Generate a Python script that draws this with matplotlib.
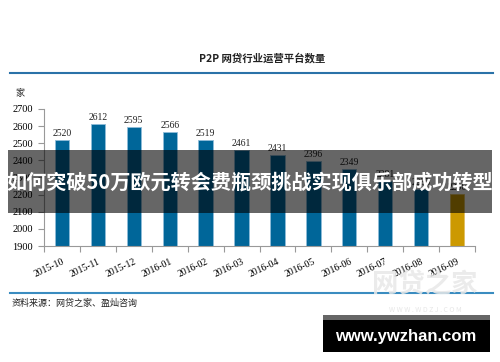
import matplotlib
matplotlib.use('Agg')
from matplotlib import pyplot as plt
from matplotlib.patches import Rectangle
import numpy as np

plt.rcParams['font.family'] = ['Noto Sans CJK SC', 'DejaVu Sans']

months = ['2015-10', '2015-11', '2015-12', '2016-01', '2016-02', '2016-03',
          '2016-04', '2016-05', '2016-06', '2016-07', '2016-08', '2016-09']
platforms = [2520, 2612, 2595, 2566, 2519, 2461, 2431, 2396, 2349, 2281, 2235, 2206]
bar_colors = ['#006699'] * 11 + ['#cc9900']
yticks = [1900, 2000, 2100, 2200, 2300, 2400, 2500, 2600, 2700]

W, H = 500, 362
fx = lambda x: x / W
fy = lambda y: 1 - y / H

fig = plt.figure(figsize=(W / 100, H / 100), dpi=100, facecolor='white')
ax = fig.add_axes([fx(44), fy(246), fx(475) - fx(44), fy(109) - fy(246)])

x = np.arange(len(months))
bars = ax.bar(x, platforms, width=0.4, color=bar_colors, edgecolor='#8fbcd9',
              linewidth=0.6, zorder=2)
bars[-1].set_edgecolor('#e0bf60')
for xi, v in zip(x, platforms):
    ax.text(xi, v + 12, str(v), ha='center', va='bottom', fontsize=7,
            family='Liberation Serif', color='#222222')

ax.set_xlim(-0.5, len(months) - 0.5)
ax.set_ylim(1900, 2700)
ax.set_yticks(yticks)
ax.set_yticklabels([str(t) for t in yticks], family='Liberation Serif', fontsize=7.5)
ax.set_xticks(x)
ax.set_xticklabels(months, rotation=25, ha='right', rotation_mode='anchor',
                   family='Liberation Serif', fontsize=7)
ax.set_xticks(np.arange(-0.5, len(months), 1), minor=True)
ax.tick_params(axis='x', which='major', length=0, pad=8)
ax.tick_params(axis='x', which='minor', length=4, color='#999999', width=0.8)
ax.tick_params(axis='y', length=4, color='#999999', width=0.8, pad=4)
for s in ['top', 'right']:
    ax.spines[s].set_visible(False)
for s in ['left', 'bottom']:
    ax.spines[s].set_color('#999999')
    ax.spines[s].set_linewidth(0.8)

# title and rules
fig.text(fx(262), fy(58), 'P2P 网贷行业运营平台数量', ha='center', va='center',
         fontsize=7.5, fontweight='bold', color='#222222')
fig.add_artist(plt.Line2D([fx(10), fx(493)], [fy(73), fy(73)], color='#2a72a8', lw=1.5))
fig.add_artist(plt.Line2D([fx(10), fx(493)], [fy(293), fy(293)], color='#3a8cc0', lw=1.5))
fig.text(fx(15), fy(93), '家', ha='left', va='center', fontsize=6.5, color='#222222')
fig.text(fx(12), fy(303), '资料来源：网贷之家、盈灿咨询', ha='left', va='center',
         fontsize=6.5, color='#222222')

# faint watermark
fig.text(fx(425), fy(285), '网贷之家', ha='center', va='center', fontsize=19,
         fontweight='bold', color='#e8e8e8', alpha=0.85, zorder=3)
fig.text(fx(425), fy(310), 'W W W . W D Z J . C O M', ha='center', va='center',
         fontsize=5, color='#e6e6e6', zorder=3)

# overlay banner
fig.add_artist(Rectangle((fx(8), fy(213)), fx(492) - fx(8), fy(150) - fy(213),
                         transform=fig.transFigure, facecolor='black', alpha=0.6,
                         edgecolor='none', zorder=5))
fig.text(fx(250), fy(182), '如何突破50万欧元转会费瓶颈挑战实现俱乐部成功转型',
         ha='center', va='center', fontsize=14.5, fontweight='bold', color='white',
         zorder=6)

# site badge
fig.add_artist(Rectangle((fx(323), fy(352)), fx(490) - fx(323), fy(315) - fy(352),
                         transform=fig.transFigure, facecolor='black',
                         edgecolor='none', zorder=5))
fig.add_artist(Rectangle((fx(323), fy(320)), fx(490) - fx(323), fy(315) - fy(320),
                         transform=fig.transFigure, facecolor='#666666',
                         edgecolor='none', zorder=5))
fig.text(fx(406), fy(337), 'www.ywzhan.com', ha='center', va='center',
         fontsize=12, fontweight='bold', family='Liberation Sans', color='white',
         zorder=6)

fig.savefig('out.png', dpi=100, facecolor='white')
